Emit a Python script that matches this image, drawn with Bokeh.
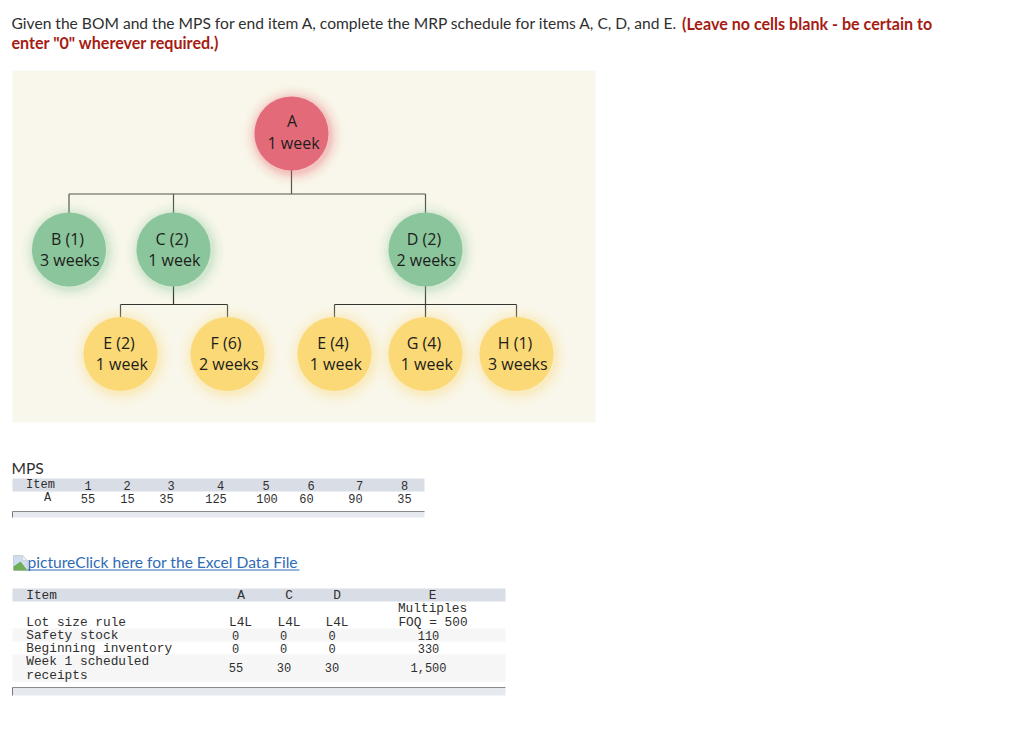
from bokeh.core.properties import value
from bokeh.embed import file_html
from bokeh.models import ColumnDataSource, Range1d
from bokeh.plotting import figure
from bokeh.resources import INLINE

# ---- content -------------------------------------------------------------
question_line1 = "Given the BOM and the MPS for end item A, complete the MRP schedule for items A, C, D, and E."
warning_line1 = "(Leave no cells blank - be certain to"
warning_line2 = 'enter "0" wherever required.)'
link_text = "pictureClick here for the Excel Data File"

node_top = ["A", "1 week"]
nodes_mid = [("B (1)", "3 weeks"), ("C (2)", "1 week"), ("D (2)", "2 weeks")]
nodes_low = [("E (2)", "1 week"), ("F (6)", "2 weeks"), ("E (4)", "1 week"),
             ("G (4)", "1 week"), ("H (1)", "3 weeks")]

mps_weeks = ["1", "2", "3", "4", "5", "6", "7", "8"]
mps_values = ["55", "15", "35", "125", "100", "60", "90", "35"]

item_cols = ["A", "C", "D", "E"]
lot_rule = ["L4L", "L4L", "L4L", "FOQ = 500"]
safety_stock = ["0", "0", "0", "110"]
beginning_inv = ["0", "0", "0", "330"]
scheduled = ["55", "30", "30", "1,500"]

# ---- layout (page pixels) ------------------------------------------------
W, H = 1008, 725
top_pos = (291, 133)
mid_x, mid_y = [68.5, 173, 425], 249
low_x, low_y = [120, 227, 334, 425, 516], 353.5
R = 37
mps_head_x = [87.5, 126.7, 170.7, 220, 265.7, 310.7, 359, 404]
mps_val_x = [87.5, 127, 166, 215.5, 266.5, 306, 355, 404]
col_head_x = [240.5, 288.5, 336.5, 432]
col_lot_x = [240, 288.5, 336.5, 432.5]
col_zero_x = [235, 283, 331.5, 428]
col_sched_x = [235.5, 283.5, 331.5, 428]

SANS = "Lato"
BOM = "Open Sans"
MONO = "Liberation Mono"
INK = "#2f2f2f"
NODE_INK = "#1d1d1b"

p = figure(width=W, height=H, x_range=Range1d(0, W), y_range=Range1d(H, 0),
           output_backend="svg", toolbar_location=None, min_border=0,
           x_axis_location=None, y_axis_location=None, outline_line_color=None,
           background_fill_color="white", border_fill_color="white")
p.grid.visible = False


def txt(xs, ys, texts, size, color=INK, font=SANS, align="left", style="normal"):
    src = ColumnDataSource(dict(x=xs, y=ys, t=texts))
    p.text("x", "y", text="t", source=src, text_font=value(font), text_font_size=f"{size}px",
           text_color=color, text_align=align, text_baseline="middle", text_font_style=style)


def box(x0, x1, y0, y1, color):
    p.quad(left=[x0], right=[x1], top=[y0], bottom=[y1], fill_color=color, line_color=None)


def rule(xs, ys, color="#55584f", width=1.2):
    p.line(xs, ys, line_color=color, line_width=width)


def bubbles(xs, ys, fill, glow):
    for extra, alpha in [(14, .02), (11, .03), (8.5, .04), (6, .06), (4, .08), (2, .1)]:
        p.circle([x + 1.5 for x in xs], [y + 2 for y in ys], radius=R + extra,
                 fill_color=glow, fill_alpha=alpha, line_color=None)
    p.circle(xs, ys, radius=R, fill_color=fill, line_color=None)


# question text
txt([11], [22.5], [question_line1], 15.6)
txt([681.5], [22.5], [warning_line1], 16.1, color="#a61c12", style="bold")
txt([11], [41.5], [warning_line2], 16.1, color="#a61c12", style="bold")

# BOM panel
box(12, 595, 70, 422, "#f9f7eb")
rule([top_pos[0]] * 2, [165, 193.5])
rule([mid_x[0], mid_x[0]], [216, 193.5])
rule([mid_x[0], mid_x[2]], [193.5, 193.5])
rule([mid_x[1], mid_x[1]], [193.5, 216])
rule([mid_x[2], mid_x[2]], [193.5, 216])
rule([mid_x[1], mid_x[1]], [282, 304], color="#33352f")
rule([low_x[0], low_x[1]], [304, 304], color="#33352f")
rule([low_x[0], low_x[0]], [304, 320])
rule([low_x[1], low_x[1]], [304, 320])
rule([mid_x[2], mid_x[2]], [282, 320], color="#44463f")
rule([low_x[2], low_x[4]], [304, 304], color="#33352f")
rule([low_x[2], low_x[2]], [304, 320])
rule([low_x[4], low_x[4]], [304, 320])

bubbles([top_pos[0]], [top_pos[1]], "#e36b79", "#e8505f")
bubbles(mid_x, [mid_y] * 3, "#8bc59c", "#7cc594")
bubbles(low_x, [low_y] * 5, "#fbd976", "#fbd566")

NODE_SIZE = 16
txt([top_pos[0] + 0.5], [120], [node_top[0]], NODE_SIZE, font=BOM, align="center", color=NODE_INK)
txt([top_pos[0] + 2], [142], [node_top[1]], NODE_SIZE, font=BOM, align="center", color=NODE_INK)
txt([x - 1.5 for x in mid_x], [238] * 3, [n[0] for n in nodes_mid], NODE_SIZE, font=BOM, align="center", color=NODE_INK)
txt([x + 0.8 for x in mid_x], [259.5] * 3, [n[1] for n in nodes_mid], NODE_SIZE, font=BOM, align="center", color=NODE_INK)
txt([x - 1.5 for x in low_x], [342] * 5, [n[0] for n in nodes_low], NODE_SIZE, font=BOM, align="center", color=NODE_INK)
txt([x + 1.3 for x in low_x], [363.5] * 5, [n[1] for n in nodes_low], NODE_SIZE, font=BOM, align="center", color=NODE_INK)

# MPS table
txt([11], [467.5], ["MPS"], 15.6)
box(12, 424, 478, 491, "#d8dde6")
txt([40], [484.5], ["Item"], 12, font=MONO, align="center")
txt(mps_head_x, [484.5] * 8, mps_weeks, 12, font=MONO, align="center")
txt([47], [497.5], ["A"], 12, font=MONO, align="center")
txt(mps_val_x, [497.5] * 8, mps_values, 12, font=MONO, align="center")
box(12, 424, 511, 517, "#e6e9ef")
rule([12, 424], [511, 511], color="#8a8a8a", width=1)
rule([12, 12], [511, 517], color="#777777", width=1)

# link with broken-image icon
p.patch([13, 22, 27, 27, 13], [555, 555, 560, 570, 570], fill_color="#cfdcf0", line_color="#c4c8ce", line_width=0.8)
p.patch([13, 13, 20, 27], [570, 566, 561, 570], fill_color="#6fae55", line_color=None)
p.patch([22, 27, 22], [555, 560, 560], fill_color="#f2f2f2", line_color="#c4c8ce", line_width=0.6)
txt([27], [561], [link_text], 15.6, color="#2f6cb5")
rule([27, 299], [569.5, 569.5], color="#2f6cb5", width=1)

# item table
box(12, 505, 588, 601, "#d8dde6")
box(12, 505, 628, 641, "#f6f6f6")
box(12, 505, 654, 681, "#f6f6f6")
ML = 12.8
LX = 25.7
txt([LX], [595], ["Item"], ML, font=MONO)
txt(col_head_x, [595] * 4, item_cols, ML, font=MONO, align="center")
txt([432], [608], ["Multiples"], ML, font=MONO, align="center")
txt([LX], [621.5], ["Lot size rule"], ML, font=MONO)
txt(col_lot_x, [621.5] * 4, lot_rule, ML, font=MONO, align="center")
txt([LX], [634.5], ["Safety stock"], ML, font=MONO)
txt(col_zero_x, [634.5] * 4, safety_stock, 12, font=MONO, align="center")
txt([LX], [648], ["Beginning inventory"], ML, font=MONO)
txt(col_zero_x, [648] * 4, beginning_inv, 12, font=MONO, align="center")
txt([LX], [661], ["Week 1 scheduled"], ML, font=MONO)
txt([LX], [674.5], ["receipts"], ML, font=MONO)
txt(col_sched_x, [667] * 4, scheduled, 12, font=MONO, align="center")
box(12, 505, 687, 695, "#e6e9ef")
rule([12, 505], [687, 687], color="#8a8a8a", width=1)
rule([12, 12], [687, 695], color="#777777", width=1)

open("out.html", "w").write(file_html(p, INLINE))
